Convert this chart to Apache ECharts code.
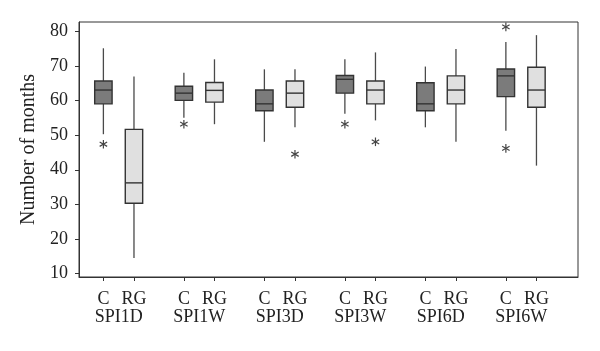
<!DOCTYPE html>
<html>
<head>
<meta charset="utf-8">
<script src="https://cdn.jsdelivr.net/npm/echarts@6/dist/echarts.min.js"></script>
<style>html,body{margin:0;padding:0;background:#fff}#c{width:600px;height:351px}</style>
</head>
<body>
<div id="c"></div>
<script>
// ---- data ----
const groups = ['SPI1D', 'SPI1W', 'SPI3D', 'SPI3W', 'SPI6D', 'SPI6W'];
const subLabels = ['C', 'RG'];
const yTicks = [10, 20, 30, 40, 50, 60, 70, 80];
// [lower whisker, Q1, median, Q3, upper whisker]
const cBoxes = [
  [50.3, 59.1, 63.1, 65.7, 75.2],
  [55.1, 60.1, 62.2, 64.2, 68.1],
  [48.1, 57.1, 59.1, 63.1, 69.1],
  [56.2, 62.2, 66.2, 67.3, 72.0],
  [52.3, 57.1, 59.1, 65.2, 69.9],
  [51.3, 61.2, 67.2, 69.2, 77.0]
];
const rgBoxes = [
  [14.4, 30.3, 36.2, 51.7, 67.0],
  [53.2, 59.6, 63.0, 65.3, 72.0],
  [52.3, 58.1, 62.2, 65.7, 69.1],
  [54.3, 59.1, 63.1, 65.7, 74.0],
  [48.1, 59.1, 63.1, 67.2, 75.0],
  [41.2, 58.1, 63.1, 69.7, 79.0]
];
// [group index, value]
const cOutliers = [[0, 47.4], [1, 53.2], [3, 53.2], [5, 81.4], [5, 46.2]];
const rgOutliers = [[2, 44.5], [3, 48.1]];

// ---- layout / style ----
const OFF = 0.19;
const FONT = 'Liberation Serif';
const tickPos = [];
groups.forEach((g, i) => { tickPos.push(i - OFF); tickPos.push(i + OFF); });
const groupPos = groups.map((g, i) => i);

function boxRender(offset, fill) {
  return function (params, api) {
    const x = api.value(0) + offset;
    const lo = api.coord([x, api.value(1)]);
    const q1 = api.coord([x, api.value(2)]);
    const md = api.coord([x, api.value(3)]);
    const q3 = api.coord([x, api.value(4)]);
    const hi = api.coord([x, api.value(5)]);
    const hw = 8.7;
    const lineStyle = { stroke: '#4a4a4a', lineWidth: 1.3 };
    return {
      type: 'group',
      children: [
        { type: 'line', shape: { x1: lo[0], y1: lo[1], x2: q1[0], y2: q1[1] }, style: lineStyle },
        { type: 'line', shape: { x1: q3[0], y1: q3[1], x2: hi[0], y2: hi[1] }, style: lineStyle },
        { type: 'rect', shape: { x: q3[0] - hw, y: q3[1], width: hw * 2, height: q1[1] - q3[1] },
          style: { fill: fill, stroke: '#333', lineWidth: 1.4 } },
        { type: 'line', shape: { x1: md[0] - hw, y1: md[1], x2: md[0] + hw, y2: md[1] },
          style: { stroke: '#333', lineWidth: 1.4 } }
      ]
    };
  };
}

function starRender(offset) {
  return function (params, api) {
    const p = api.coord([api.value(0) + offset, api.value(1)]);
    const r = 4.3;
    const st = { stroke: '#444', lineWidth: 1.2 };
    const c = Math.cos(Math.PI / 6) * r, s = Math.sin(Math.PI / 6) * r;
    return {
      type: 'group',
      children: [
        { type: 'line', shape: { x1: p[0], y1: p[1] - r, x2: p[0], y2: p[1] + r }, style: st },
        { type: 'line', shape: { x1: p[0] - c, y1: p[1] - s, x2: p[0] + c, y2: p[1] + s }, style: st },
        { type: 'line', shape: { x1: p[0] - c, y1: p[1] + s, x2: p[0] + c, y2: p[1] - s }, style: st }
      ]
    };
  };
}

const chart = echarts.init(document.getElementById('c'), null, { renderer: 'canvas' });
chart.setOption({
  animation: false,
  backgroundColor: '#fff',
  grid: { left: 79, top: 22, width: 499, height: 255, show: true, borderColor: '#333', borderWidth: 1, containLabel: false, outerBoundsMode: 'none' },
  xAxis: [
    {
      type: 'value', min: -0.493, max: 5.706, position: 'bottom',
      splitLine: { show: false },
      axisLine: { show: true, onZero: false, lineStyle: { color: '#333', width: 1 } },
      axisTick: { show: true, customValues: tickPos, length: 4, inside: false, lineStyle: { color: '#333' } },
      axisLabel: {
        customValues: tickPos, margin: 13, color: '#222', fontFamily: FONT, fontSize: 18,
        formatter: function (v) { return v < Math.round(v) ? subLabels[0] : subLabels[1]; }
      }
    },
    {
      type: 'value', min: -0.493, max: 5.706, position: 'bottom',
      splitLine: { show: false },
      axisLine: { show: false, onZero: false }, axisTick: { show: false },
      axisLabel: {
        customValues: groupPos, margin: 31, color: '#222', fontFamily: FONT, fontSize: 18,
        formatter: function (v) { return groups[Math.round(v)]; }
      }
    }
  ],
  yAxis: {
    type: 'value', min: 8.93, max: 82.81,
    name: 'Number of months', nameLocation: 'middle', nameGap: 40,
    nameTextStyle: { fontFamily: FONT, fontSize: 20, color: '#222' },
    splitLine: { show: false },
    axisLine: { show: true, onZero: false, lineStyle: { color: '#333', width: 1 } },
    axisTick: { show: true, customValues: yTicks, length: 4, lineStyle: { color: '#333' } },
    axisLabel: { customValues: yTicks, margin: 11, color: '#222', fontFamily: FONT, fontSize: 18 }
  },
  series: [
    { type: 'custom', xAxisIndex: 0, renderItem: boxRender(-OFF, '#7b7b7b'),
      data: cBoxes.map((b, i) => [i].concat(b)), encode: { x: 0, y: [1, 2, 3, 4, 5] } },
    { type: 'custom', xAxisIndex: 0, renderItem: boxRender(OFF, '#e0e0e0'),
      data: rgBoxes.map((b, i) => [i].concat(b)), encode: { x: 0, y: [1, 2, 3, 4, 5] } },
    { type: 'custom', xAxisIndex: 0, renderItem: starRender(-OFF), data: cOutliers, encode: { x: 0, y: 1 } },
    { type: 'custom', xAxisIndex: 0, renderItem: starRender(OFF), data: rgOutliers, encode: { x: 0, y: 1 } }
  ]
});
</script>
</body>
</html>
